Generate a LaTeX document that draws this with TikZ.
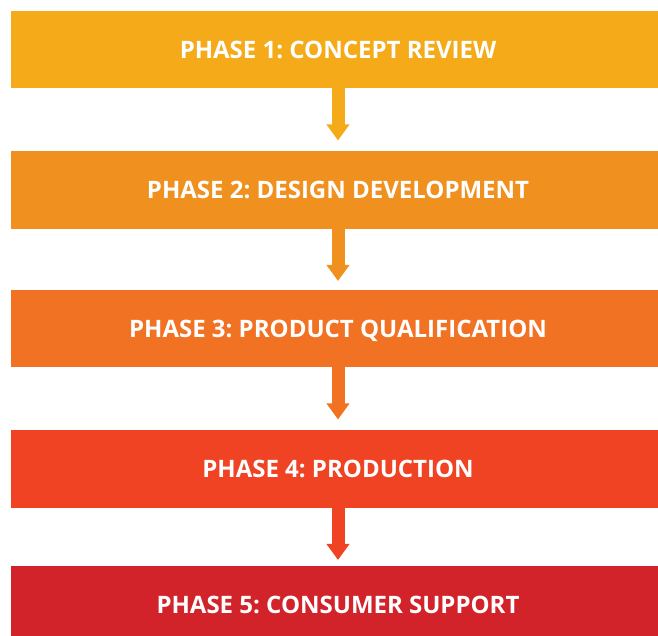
\documentclass[tikz,border=0pt]{standalone}
\usepackage{fontspec}
\setmainfont{Open Sans}
\usetikzlibrary{arrows.meta,calc}
\definecolor{cA}{HTML}{F5AB19}
\definecolor{cB}{HTML}{F0901E}
\definecolor{cC}{HTML}{F17223}
\definecolor{cD}{HTML}{EF4324}
\definecolor{cE}{HTML}{D2232A}
\frenchspacing
\tikzset{
  phasebox/.style={rectangle, inner sep=0pt, minimum width=654pt, minimum height=77.5pt,
    text height=17.1pt, text depth=0pt,
    text=white, font=\fontsize{24}{28}\selectfont\bfseries},
  flowarrow/.style={line width=13pt, -{Triangle[width=22pt,length=16pt]}}
}
\begin{document}
\begin{tikzpicture}[x=1pt,y=-1pt]
\useasboundingbox (0,0) rectangle (658,635);
\clip (0,0) rectangle (658,635);
\fill[white] (0,0) rectangle (658,635);
\node[phasebox, fill=cA] (b1) at (338,49.5) {PHASE 1: CONCEPT REVIEW};
\node[phasebox, fill=cB] (b2) at (338,190) {PHASE 2: DESIGN DEVELOPMENT};
\node[phasebox, fill=cC] (b3) at (338,328.5) {PHASE 3: PRODUCT QUALIFICATION};
\node[phasebox, fill=cD] (b4) at (338,469) {PHASE 4: PRODUCTION};
\node[phasebox, fill=cE] (b5) at (338,605) {PHASE 5: CONSUMER SUPPORT};
\coordinate (t1) at ($(b1.south)+(0,52)$);
\coordinate (t2) at ($(b2.south)+(0,52)$);
\coordinate (t3) at ($(b3.south)+(0,52)$);
\coordinate (t4) at ($(b4.south)+(0,52)$);
\draw[flowarrow, cA] (b1.south) -- (t1);
\draw[flowarrow, cB] (b2.south) -- (t2);
\draw[flowarrow, cC] (b3.south) -- (t3);
\draw[flowarrow, cD] (b4.south) -- (t4);
\end{tikzpicture}
\end{document}
